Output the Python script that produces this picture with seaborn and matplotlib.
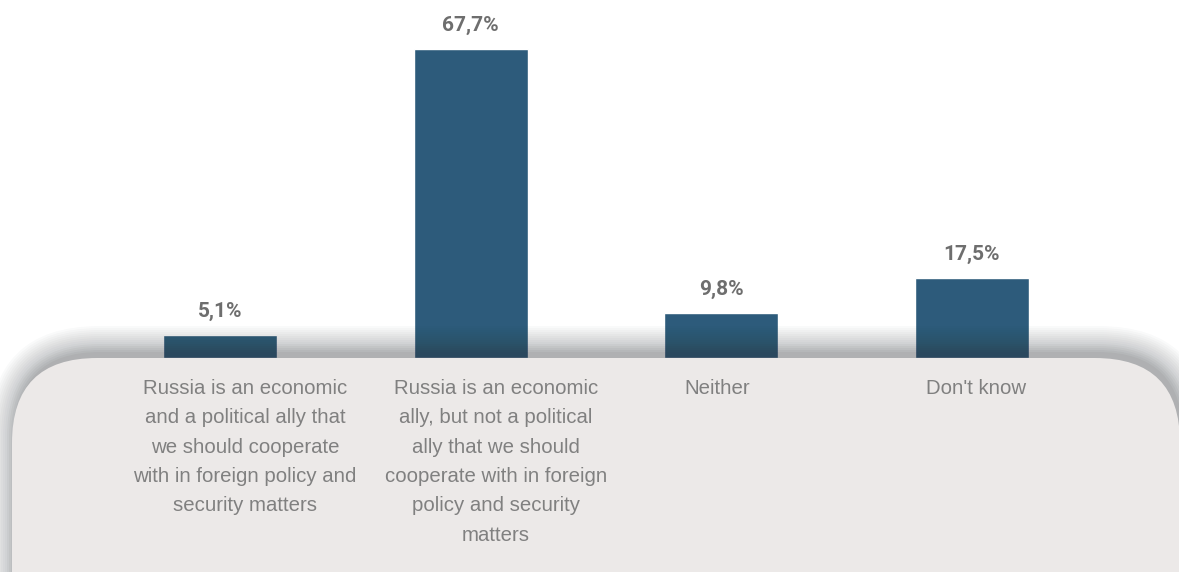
import pandas as pd
import matplotlib.pyplot as plt
import seaborn as sns
from matplotlib.patches import FancyBboxPatch
from matplotlib.transforms import blended_transform_factory

# data
categories = [
    "Russia is an economic\nand a political ally that\nwe should cooperate\nwith in foreign policy and\nsecurity matters",
    "Russia is an economic\nally, but not a political\nally that we should\ncooperate with in foreign\npolicy and security\nmatters",
    "Neither",
    "Don't know",
]
values = [5.1, 67.7, 9.8, 17.5]

df = pd.DataFrame({"answer": categories, "share": values})

BAR_COLOR = "#2d5b7b"
PANEL_COLOR = "#ece9e8"
LABEL_GREY = "#808080"
VALUE_GREY = "#6e6e6e"

W, H = 1179, 572
sns.set_style("white")
fig = plt.figure(figsize=(W / 100, H / 100), dpi=100)
fig.patch.set_facecolor("white")

# bar axes: baseline sits at the top edge of the grey panel
base_px = 214
ax = fig.add_axes([0, base_px / H, 1, (H - base_px) / H])
ax.patch.set_visible(False)
ax.set_zorder(1)

sns.barplot(data=df, x="answer", y="share", color=BAR_COLOR, width=0.455,
            saturation=1, ax=ax)
ax.set_xlim(-0.878, 3.826)
ax.set_ylim(0, 78.4)
ax.set_axis_off()

labels = [f"{v:.1f}%".replace(".", ",") for v in values]
ax.bar_label(ax.containers[0], labels=labels, padding=10, fontsize=15,
             fontweight="bold", color=VALUE_GREY,
             family=["Liberation Sans Narrow", "Roboto"])

# overlay axes in pixel units for the panel, its shadow and the category text
top = fig.add_axes([0, 0, 1, 1])
top.patch.set_visible(False)
top.set_zorder(2)
top.set_xlim(0, W)
top.set_ylim(0, H)
top.set_axis_off()

px0, pw = 12, 1168
py0, ph = -200, base_px + 200
radius = 85

# soft shadow: stacked translucent rounded boxes
for k in range(14):
    pad = 2 * k
    sh = FancyBboxPatch((px0 + 3, py0 + 6), pw, ph,
                        boxstyle=f"round,pad={pad},rounding_size={radius + pad}",
                        facecolor="#2a3138", edgecolor="none",
                        alpha=0.045 if k < 5 else 0.022, zorder=1)
    top.add_patch(sh)

panel = FancyBboxPatch((px0, py0), pw, ph,
                       boxstyle=f"round,pad=0,rounding_size={radius}",
                       facecolor=PANEL_COLOR, edgecolor="none", zorder=2)
top.add_patch(panel)

# the text columns are not exactly centred under the bars
label_shift = [0.1, 0.1, -0.016, 0.016]
trans = blended_transform_factory(ax.transData, top.transData)
for i, cat in enumerate(categories):
    top.text(i + label_shift[i], H - 379, cat, transform=trans, ha="center",
             va="top", fontsize=14.7, color=LABEL_GREY, linespacing=1.69,
             family=["Liberation Sans", "DejaVu Sans"], zorder=3)

plt.savefig("out.png", dpi=100)
plt.close()
